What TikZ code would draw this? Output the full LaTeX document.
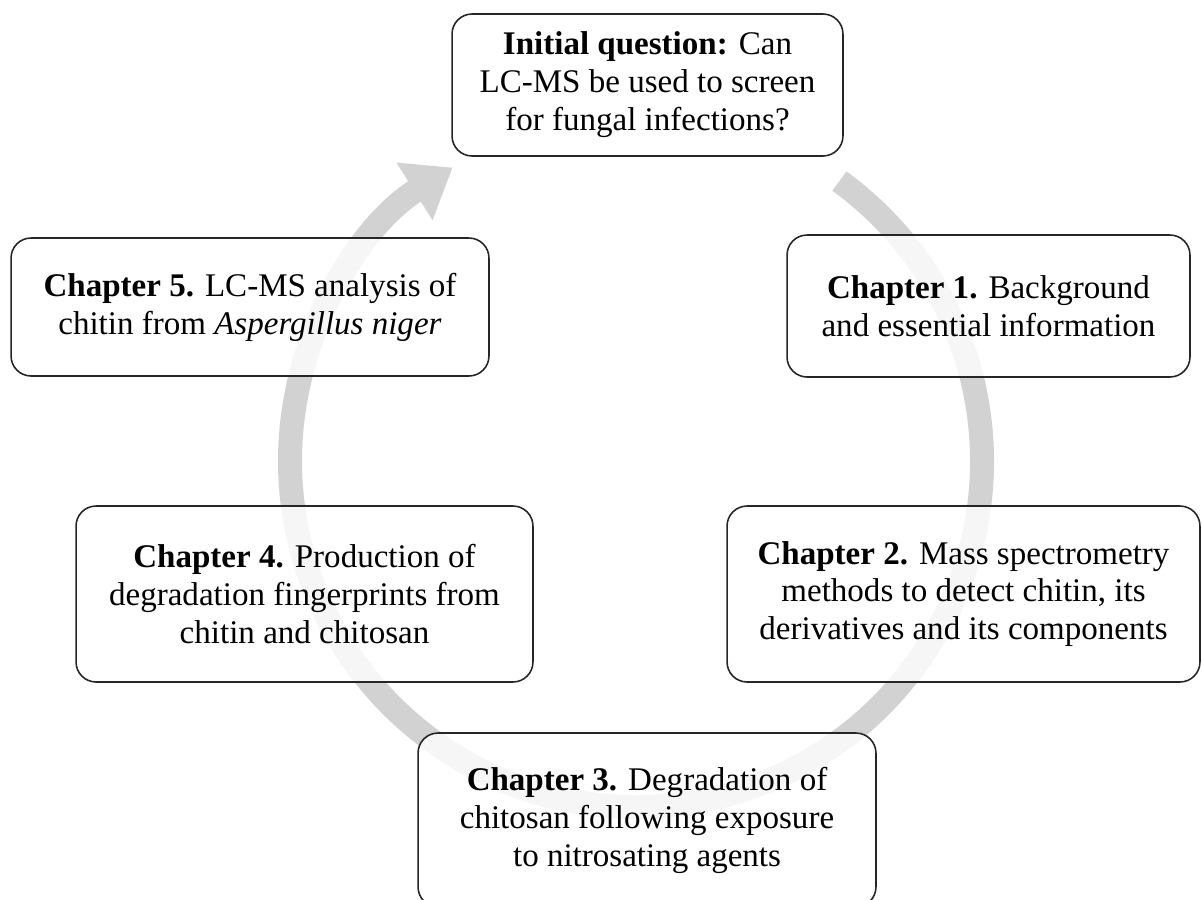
\documentclass[tikz,border=0pt]{standalone}
\usepackage{fontspec}
\setmainfont{Liberation Serif}
\usetikzlibrary{arrows.meta}
\definecolor{arcgray}{RGB}{210,210,210}
\tikzset{
  chapbox/.style={draw=black!85, line width=0.9pt, rounded corners=0.4cm,
    fill=white, fill opacity=0.8, text opacity=1, align=center, inner sep=0pt,
    font=\fontsize{18.8}{21.6}\selectfont},
}

\begin{document}
\begin{tikzpicture}[x=0.02cm,y=-0.02cm]
\useasboundingbox (0,0) rectangle (1202,899);
%\draw[step=50,gray,very thin] (0,0) grid (1200,899);
\coordinate (hub) at (636,461);
\draw[arcgray, line width=0.48cm, -{Triangle[length=0.9cm,width=1.3cm]}]
  (hub) ++(-54:346) arc[start angle=-54, end angle=238, radius=346];
\node[chapbox, minimum width=7.82cm, minimum height=2.84cm] (init) at (647.5,85)
  {\textbf{Initial question:} Can\\LC-MS be used to screen\\for fungal infections?};
\node[chapbox, minimum width=8.06cm, minimum height=2.84cm] (ch1) at (988.5,306)
  {\textbf{Chapter 1.} Background\\and essential information};
\node[chapbox, minimum width=9.46cm, minimum height=3.52cm] (ch2) at (963.5,594)
  {\textbf{Chapter 2.} Mass spectrometry\\methods to detect chitin, its\\derivatives and its components};
\node[chapbox, minimum width=9.16cm, minimum height=3.48cm] (ch3) at (647,820)
  {\textbf{Chapter 3.} Degradation of\\chitosan following exposure\\to nitrosating agents};
\node[chapbox, minimum width=9.14cm, minimum height=3.52cm] (ch4) at (304.5,594)
  {\textbf{Chapter 4.} Production of\\degradation fingerprints from\\chitin and chitosan};
\node[chapbox, minimum width=9.56cm, minimum height=2.76cm] (ch5) at (250,307)
  {\textbf{Chapter 5.} LC-MS analysis of\\chitin from \textit{Aspergillus niger}};
\end{tikzpicture}
\end{document}
